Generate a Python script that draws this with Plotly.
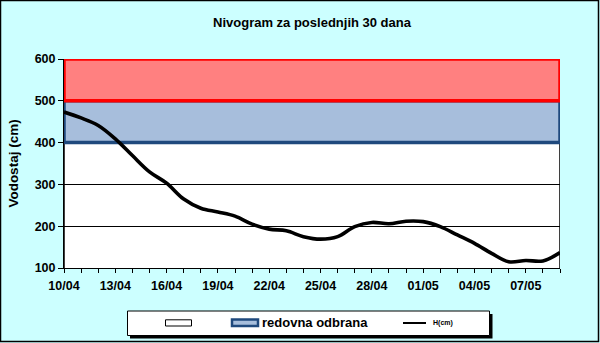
import pandas as pd
import plotly.graph_objects as go

# Daily water level H(cm), 10/04 - 09/05
start_date = "2024-04-10"
level_cm = [473, 459, 441, 409, 369, 330, 303, 265, 243, 234,
            224, 205, 193, 189, 175, 169, 175, 199, 209, 206,
            212, 211, 199, 179, 159, 135, 115, 118, 117, 137]
dates = pd.date_range(start_date, periods=len(level_cm), freq="D")

# Stacked zones: normal range, regular defence, emergency
zone_low = [0, 400, 500]
zone_high = [400, 500, 600]
zone_names = ["", "redovna odbrana", ""]
zone_fill = ["rgba(255,255,255,0)", "#A7BEDC", "#FF8080"]
zone_line = ["#000000", "#1F497D", "#FF0000"]
zone_width = [1.5, 3.5, 3.5]
series_name = "H(cm)"

y_ticks = [100, 200, 300, 400, 500, 600]

FONT = "Liberation Sans, Arial, sans-serif"

# plot area in pixels
W, H = 600, 343
L, R, T, B = 64, 560, 59, 268


def px_x(p):
    return (p - L) / (R - L)


def px_y(p):
    return (B - p) / (B - T)


fig = go.Figure()

x0, x1 = dates[0], dates[-1]
for lo, hi, name, fc, lc, lw in zip(zone_low, zone_high, zone_names,
                                     zone_fill, zone_line, zone_width):
    fig.add_trace(go.Scatter(
        x=[x0, x1, x1, x0, x0], y=[lo, lo, hi, hi, lo],
        mode="lines", fill="toself", fillcolor=fc,
        line=dict(color=lc, width=lw),
        name=name, showlegend=False, hoverinfo="skip",
    ))

fig.add_trace(go.Scatter(
    x=dates, y=level_cm, mode="lines",
    line=dict(color="#000000", width=3.6, shape="spline", smoothing=1.0),
    name=series_name, showlegend=False,
))


def rect(x_a, x_b, y_a, y_b, **kw):
    fig.add_shape(type="rect", xref="paper", yref="paper",
                  x0=px_x(x_a), x1=px_x(x_b), y0=px_y(y_b), y1=px_y(y_a),
                  layer="above", **kw)


# chart border
fig.add_shape(type="rect", xref="paper", yref="paper",
              x0=px_x(0.5), x1=px_x(598.5), y0=px_y(341.5), y1=px_y(0.5),
              line=dict(color="#000000", width=1.5), layer="below")

# legend frame with drop shadow
rect(130, 492.5, 314, 338.5, fillcolor="#000000", line=dict(width=0))
rect(127.5, 489.5, 311, 335.5, fillcolor="#FFFFFF", line=dict(color="#000000", width=1))

# legend keys
rect(165.5, 191.5, 319.8, 326, fillcolor="#FFFFFF", line=dict(color=zone_line[0], width=1))
rect(232, 258, 319.5, 326, fillcolor=zone_fill[1], line=dict(color=zone_line[1], width=2.5))
fig.add_shape(type="line", xref="paper", yref="paper",
              x0=px_x(403), x1=px_x(426), y0=px_y(323), y1=px_y(323),
              line=dict(color="#000000", width=2), layer="above")

fig.add_annotation(text="<b>" + zone_names[1] + "</b>", xref="paper", yref="paper",
                   x=px_x(260), y=px_y(322.5), xanchor="left", yanchor="middle",
                   showarrow=False, font=dict(family=FONT, size=13, color="#000000"))
fig.add_annotation(text="<b>" + series_name + "</b>", xref="paper", yref="paper",
                   x=px_x(431), y=px_y(323), xanchor="left", yanchor="middle",
                   showarrow=False, font=dict(family=FONT, size=7, color="#000000"))

fig.update_layout(
    width=W, height=H,
    margin=dict(l=L, r=W - R, t=T, b=H - B, autoexpand=False),
    paper_bgcolor="#CCFFFF", plot_bgcolor="#FFFFFF",
    font=dict(family=FONT, color="#000000"),
    title=dict(text="<b>Nivogram za poslednjih 30 dana</b>",
               x=px_x((L + R) / 2), xanchor="center", xref="paper",
               y=1 - 22 / H, yanchor="middle",
               font=dict(family=FONT, size=13, color="#000000")),
    showlegend=False,
)

fig.update_xaxes(
    type="date", range=[x0, x1],
    tick0=x0, dtick=3 * 86400000, tickformat="%d/%m",
    ticks="outside", ticklen=4, tickcolor="#000000",
    minor=dict(dtick=86400000, ticks="outside", ticklen=4, tickcolor="#000000"),
    showgrid=False, showline=True, linecolor="#000000", linewidth=1,
    tickfont=dict(family=FONT, size=12.5, color="#000000", weight="bold"),
    layer="below traces", ticklabelstandoff=2,
)
fig.update_yaxes(
    range=[100, 600], tickvals=y_ticks,
    ticks="outside", ticklen=5, tickcolor="#000000",
    showgrid=True, gridcolor="#000000", gridwidth=1,
    showline=True, linecolor="#000000", linewidth=1,
    zeroline=False,
    tickfont=dict(family=FONT, size=12.5, color="#000000", weight="bold"),
    title=dict(text="<b>Vodostaj (cm)</b>", standoff=12,
               font=dict(family=FONT, size=13.5, color="#000000")),
    layer="below traces",
)

fig.write_html("out.html")
